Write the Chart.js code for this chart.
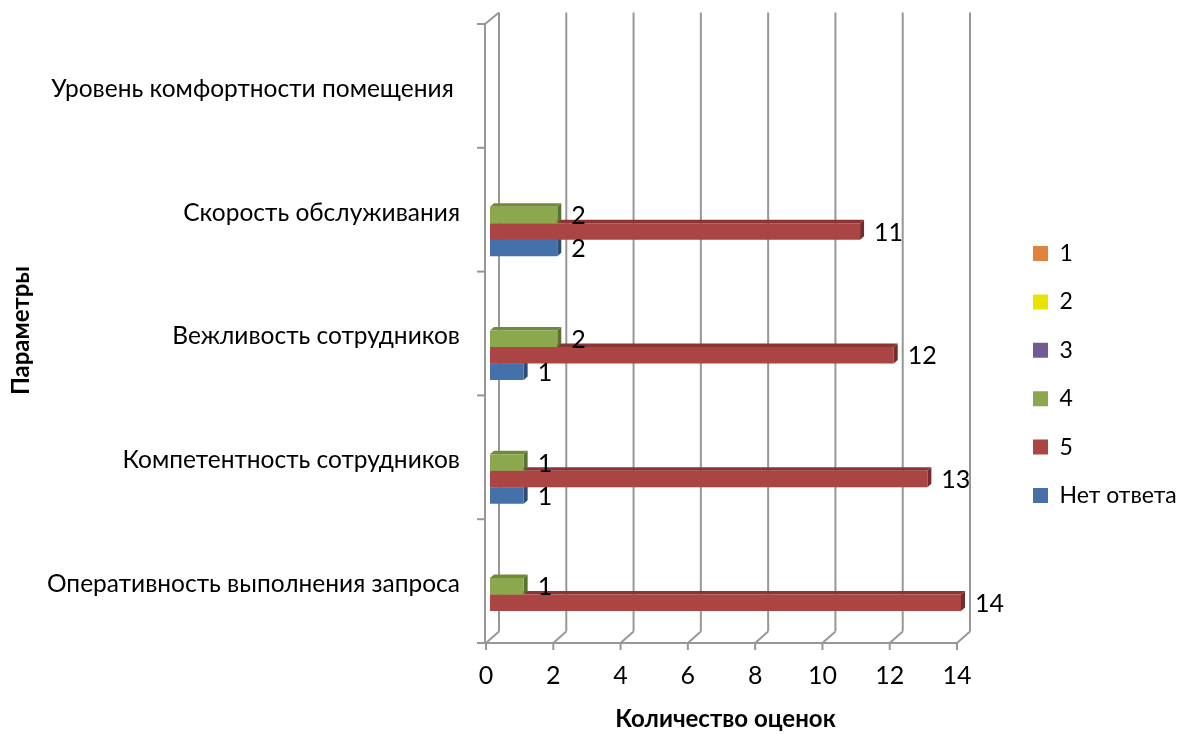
<!DOCTYPE html>
<html>
<head>
<meta charset="utf-8">
<script src="https://cdn.jsdelivr.net/npm/chart.js@4.4.1/dist/chart.umd.min.js"></script>
<style>
  html, body { margin: 0; padding: 0; background: #ffffff; }
  #wrap { width: 1179px; height: 735px; }
</style>
</head>
<body>
<div id="wrap"><canvas id="chart" width="1179" height="735"></canvas></div>
<script>
// Survey results: number of ratings per parameter
const categories = [
  'Уровень комфортности помещения ',
  'Скорость обслуживания',
  'Вежливость сотрудников',
  'Компетентность сотрудников',
  'Оперативность выполнения запроса'
];
const seriesNames = ['1', '2', '3', '4', '5', 'Нет ответа'];
const score1 = [null, null, null, null, null];
const score2 = [null, null, null, null, null];
const score3 = [null, null, null, null, null];
const score4 = [null, 2, 2, 1, 1];
const score5 = [null, 11, 12, 13, 14];
const noAnswer = [null, 2, 1, 1, null];
const xTickValues = [0, 2, 4, 6, 8, 10, 12, 14];

// face / top / side shades for each series
const palette = [
  { face: '#E0823D', top: '#B8692F', side: '#A35C28' },
  { face: '#E8E400', top: '#BDB900', side: '#A6A300' },
  { face: '#735A94', top: '#5C4878', side: '#4F3E68' },
  { face: '#8CA84E', top: '#6F8A38', side: '#5A7230' },
  { face: '#AA4543', top: '#8A3533', side: '#762C2A' },
  { face: '#4471A9', top: '#35598A', side: '#2E4C76' }
];
const seriesValues = [score1, score2, score3, score4, score5, noAnswer];

const FONT = 'Lato, "Open Sans", sans-serif';
const frontShift = { dx: -4, dy: 3 };   // front plane relative to the bars
const backShift = { dx: 9, dy: -8.5 };  // back wall relative to the bars
const depth = { dx: 4, dy: 3.5 };       // bar extrusion

function line(ctx, x1, y1, x2, y2) {
  ctx.beginPath();
  ctx.moveTo(x1, y1);
  ctx.lineTo(x2, y2);
  ctx.stroke();
}

// walls, floor and axes of the 3D frame
const framePlugin = {
  id: 'frame3d',
  beforeDatasetsDraw(chart) {
    const ctx = chart.ctx, a = chart.chartArea, xs = chart.scales.x;
    ctx.save();
    ctx.strokeStyle = '#979797';
    ctx.lineWidth = 2;
    ctx.lineCap = 'butt';
    xTickValues.forEach(v => {
      const x = xs.getPixelForValue(v);
      // back wall gridline
      line(ctx, x + backShift.dx, a.top + backShift.dy, x + backShift.dx, a.bottom + backShift.dy);
      // floor diagonal
      line(ctx, x + frontShift.dx, a.bottom + frontShift.dy, x + backShift.dx, a.bottom + backShift.dy);
      // tick mark
      line(ctx, x + frontShift.dx, a.bottom + frontShift.dy, x + frontShift.dx, a.bottom + frontShift.dy + 7);
    });
    const fx = a.left + frontShift.dx - 1;
    // front horizontal axis
    line(ctx, fx - 8, a.bottom + frontShift.dy, xs.getPixelForValue(14) + frontShift.dx, a.bottom + frontShift.dy);
    // front vertical axis
    line(ctx, fx, a.top + frontShift.dy, fx, a.bottom + frontShift.dy);
    // top edge of the side wall
    line(ctx, fx, a.top + frontShift.dy, a.left + backShift.dx, a.top + backShift.dy);
    // category boundary ticks
    const n = categories.length;
    for (let i = 0; i <= n; i++) {
      const y = a.top + i * (a.bottom - a.top) / n + frontShift.dy;
      line(ctx, fx - 8, y, fx, y);
    }
    ctx.restore();
  }
};

// top and side faces of the bars, drawn before the front faces
const extrudePlugin = {
  id: 'extrude',
  beforeDatasetsDraw(chart) {
    const ctx = chart.ctx;
    ctx.save();
    for (let j = 0; j < categories.length; j++) {
      for (let i = seriesValues.length - 1; i >= 0; i--) {
        if (seriesValues[i][j] == null) continue;
        const el = chart.getDatasetMeta(i).data[j];
        const p = el.getProps(['x', 'y', 'base', 'height'], true);
        const x0 = p.base, x1 = p.x, yt = p.y - p.height / 2, yb = p.y + p.height / 2;
        ctx.fillStyle = palette[i].top;
        ctx.beginPath();
        ctx.moveTo(x0, yt);
        ctx.lineTo(x1, yt);
        ctx.lineTo(x1 + depth.dx, yt - depth.dy);
        ctx.lineTo(x0 + depth.dx, yt - depth.dy);
        ctx.closePath();
        ctx.fill();
        ctx.fillStyle = palette[i].side;
        ctx.beginPath();
        ctx.moveTo(x1, yt);
        ctx.lineTo(x1 + depth.dx, yt - depth.dy);
        ctx.lineTo(x1 + depth.dx, yb - depth.dy);
        ctx.lineTo(x1, yb);
        ctx.closePath();
        ctx.fill();
      }
    }
    ctx.restore();
  }
};

// value labels to the right of each bar
const valueLabelPlugin = {
  id: 'valueLabels',
  afterDatasetsDraw(chart) {
    const ctx = chart.ctx;
    ctx.save();
    ctx.font = '25px ' + FONT;
    ctx.fillStyle = '#000000';
    ctx.textAlign = 'left';
    ctx.textBaseline = 'middle';
    seriesValues.forEach((vals, i) => {
      const meta = chart.getDatasetMeta(i);
      vals.forEach((v, j) => {
        if (v == null) return;
        const el = meta.data[j];
        ctx.fillText(String(v), el.x + 14, el.y + 1);
      });
    });
    ctx.restore();
  }
};

// place the legend column at the right edge
const LEGEND_FS = 23, LEGEND_PAD = 25.4;
const legendPlacePlugin = {
  id: 'legendPlace',
  afterLayout(chart) {
    const lg = chart.legend;
    if (!lg) return;
    lg.left = 1033 - LEGEND_PAD;
    lg.right = 1179;
    lg.width = lg.right - lg.left;
    lg.top = 253.5 - LEGEND_FS / 2 - LEGEND_PAD;
    lg.bottom = lg.top + seriesNames.length * (LEGEND_FS + LEGEND_PAD) + LEGEND_PAD;
    lg.height = lg.bottom - lg.top;
  }
};

function dropScalePadding(scale) {
  scale.paddingTop = 0;
  scale.paddingBottom = 0;
  scale.paddingLeft = 0;
  scale.paddingRight = 0;
}

const datasets = seriesNames.map((name, i) => ({
  label: name,
  data: seriesValues[i],
  backgroundColor: palette[i].face,
  borderWidth: 0,
  barPercentage: 1.0,
  categoryPercentage: 0.8
}));

new Chart(document.getElementById('chart'), {
  type: 'bar',
  data: { labels: categories, datasets },
  plugins: [framePlugin, extrudePlugin, valueLabelPlugin, legendPlacePlugin],
  options: {
    indexAxis: 'y',
    responsive: false,
    animation: false,
    layout: { padding: { top: 21, left: 0, bottom: 0, right: 68 } },
    plugins: {
      legend: {
        position: 'right',
        maxWidth: 150,
        labels: {
          font: { family: FONT, size: LEGEND_FS },
          color: '#000000',
          boxWidth: 15,
          boxHeight: 15,
          padding: LEGEND_PAD
        }
      },
      tooltip: { enabled: false }
    },
    scales: {
      x: {
        min: 0,
        max: 14,
        afterBuildTicks(scale) { scale.ticks = xTickValues.map(v => ({ value: v })); },
        afterFit(scale) { scale.height = 95; dropScalePadding(scale); },
        ticks: { font: { family: FONT, size: 25 }, color: '#000000', padding: 21, labelOffset: -4 },
        grid: { display: false, drawTicks: false },
        border: { display: false },
        title: {
          display: true,
          text: 'Количество оценок',
          font: { family: FONT, size: 24, weight: 'bold' },
          color: '#000000',
          padding: { top: 0, bottom: 1 }
        }
      },
      y: {
        afterFit(scale) { scale.width = 490; dropScalePadding(scale); },
        ticks: { font: { family: FONT, size: 24.5 }, color: '#000000', padding: 30, labelOffset: 6 },
        grid: { display: false, drawTicks: false },
        border: { display: false },
        title: {
          display: true,
          text: 'Параметры',
          font: { family: FONT, size: 24, weight: 'bold' },
          color: '#000000',
          padding: { top: 7, bottom: 0 }
        }
      }
    }
  }
});
</script>
</body>
</html>
